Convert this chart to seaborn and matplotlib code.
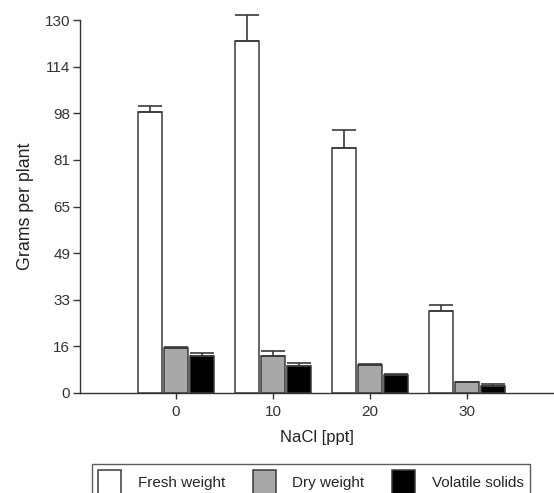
import numpy as np
import pandas as pd
import matplotlib
matplotlib.use("Agg")
import matplotlib.pyplot as plt
from matplotlib.patches import Patch
import seaborn as sns

# NaCl concentration groups (ppt)
nacl = ["0", "10", "20", "30"]
series = ["Fresh weight", "Dry weight", "Volatile solids"]

# Mean grams per plant and upper error per group
fresh_weight = [98.0, 122.8, 85.5, 28.7]
fresh_err = [2.1, 8.8, 6.3, 2.1]
dry_weight = [15.6, 12.9, 9.6, 3.7]
dry_err = [0.5, 1.7, 0.5, 0.2]
volatile_solids = [13.0, 9.5, 6.1, 2.6]
volatile_err = [0.8, 1.1, 0.6, 0.4]

ytick_labels = ["0", "16", "33", "49", "65", "81", "98", "114", "130"]
colors = ["#ffffff", "#a8a8a8", "#000000"]

df = pd.DataFrame({
    "NaCl": nacl * 3,
    "series": np.repeat(series, len(nacl)),
    "grams": fresh_weight + dry_weight + volatile_solids,
})
errors = [fresh_err, dry_err, volatile_err]

sns.set_theme(style="ticks")
plt.rcParams["font.family"] = ["Liberation Sans", "DejaVu Sans"]

fig = plt.figure(figsize=(5.54, 4.93), dpi=100)
ax = fig.add_axes([80 / 554, 100 / 493, 474 / 554, 373 / 493])

sns.barplot(data=df, x="NaCl", y="grams", hue="series", order=nacl,
            hue_order=series, palette=colors, errorbar=None, gap=0.07,
            edgecolor="#3a3a3a", linewidth=1.1, legend=False, ax=ax)

# one-sided (upper) error bars on each bar
for cont, err in zip(ax.containers, errors):
    xs = [b.get_x() + b.get_width() / 2 for b in cont]
    hs = [b.get_height() for b in cont]
    ax.errorbar(xs, hs, yerr=[np.zeros(len(err)), err], fmt="none",
                ecolor="#3a3a3a", elinewidth=1.2, capsize=8.8,
                capthick=1.2, clip_on=False, zorder=1)

ax.set_ylim(0, 130)
ax.set_xlim(-0.99, 3.90)
ax.set_yticks(np.linspace(0, 130, 9))
ax.set_yticklabels(ytick_labels)
ax.set_ylabel("Grams per plant", fontsize=12.8, color="#222222", labelpad=8)
ax.set_xlabel("NaCl [ppt]", fontsize=12, color="#222222", labelpad=8)
ax.tick_params(axis="y", length=5, pad=2)
ax.tick_params(axis="x", length=4.5, pad=4)
ax.tick_params(axis="both", labelsize=11, colors="#333333", width=1.0,
               direction="out")
for side in ["left", "bottom"]:
    ax.spines[side].set_color("#333333")
    ax.spines[side].set_linewidth(1.0)
sns.despine(ax=ax)

handles = [Patch(facecolor=c, edgecolor="#3a3a3a", linewidth=1.1) for c in colors]
leg = fig.legend(handles, series, loc="upper left",
                 bbox_to_anchor=(92 / 554, 1 - 464 / 493), ncol=3,
                 frameon=True, fancybox=False, edgecolor="#333333",
                 fontsize=11, handlelength=1.5, handleheight=2.0,
                 handletextpad=1.1, columnspacing=1.8, borderaxespad=0.0,
                 borderpad=0.4)
leg.get_frame().set_linewidth(1.0)

fig.savefig("out.png", dpi=100)
